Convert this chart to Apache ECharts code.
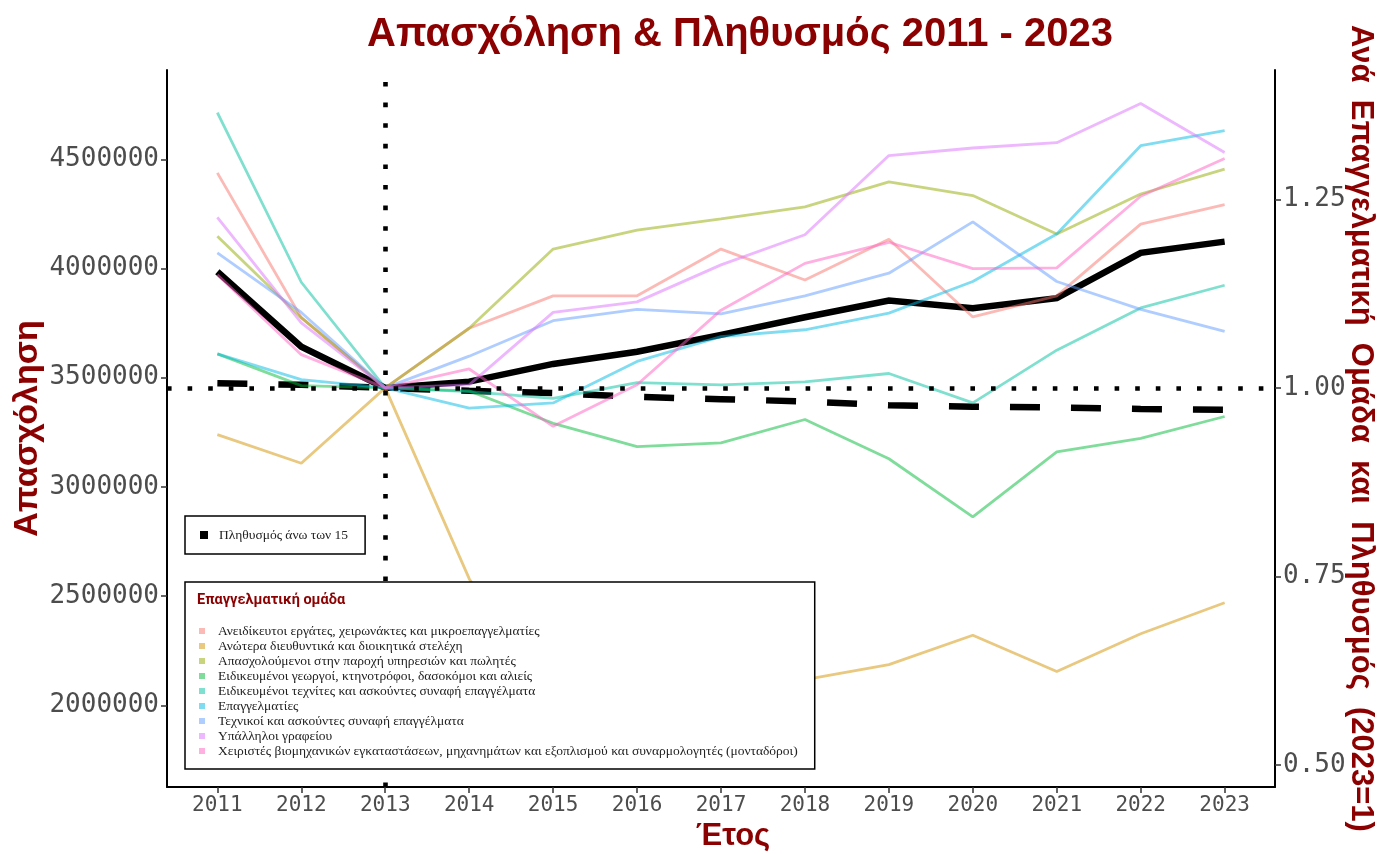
<!DOCTYPE html>
<html>
<head>
<meta charset="utf-8">
<script src="https://cdn.jsdelivr.net/npm/echarts@6/dist/echarts.min.js"></script>
<style>html,body{margin:0;padding:0;background:#fff;}#chart{width:1380px;height:854px;}</style>
</head>
<body>
<div id="chart"></div>
<script>
// ---------- data ----------
const years = [2011, 2012, 2013, 2014, 2015, 2016, 2017, 2018, 2019, 2020, 2021, 2022, 2023];
// total employment (left axis)
const employment = [3985000, 3642000, 3453000, 3482000, 3563000, 3619000, 3696000, 3777000, 3853000, 3818000, 3864000, 4072000, 4123000];
// population over 15, index (right axis)
const population = [1.006, 1.004, 1.000, 0.996, 0.993, 0.988, 0.985, 0.982, 0.977, 0.975, 0.974, 0.972, 0.971];
// occupational groups, index (right axis)
const groupNames = [
  'Ανειδίκευτοι εργάτες, χειρωνάκτες και μικροεπαγγελματίες',
  'Ανώτερα διευθυντικά και διοικητικά στελέχη',
  'Απασχολούμενοι στην παροχή υπηρεσιών και πωλητές',
  'Ειδικευμένοι γεωργοί, κτηνοτρόφοι, δασοκόμοι και αλιείς',
  'Ειδικευμένοι τεχνίτες και ασκούντες συναφή επαγγέλματα',
  'Επαγγελματίες',
  'Τεχνικοί και ασκούντες συναφή επαγγέλματα',
  'Υπάλληλοι γραφείου',
  'Χειριστές βιομηχανικών εγκαταστάσεων, μηχανημάτων και εξοπλισμού και συναρμολογητές (μονταδόροι)'
];
const unskilled   = [1.285, 1.093, 1.000, 1.079, 1.122, 1.122, 1.184, 1.143, 1.197, 1.094, 1.122, 1.217, 1.243];
const managers    = [0.938, 0.900, 1.000, 0.747, 0.570, 0.530, 0.515, 0.613, 0.633, 0.672, 0.624, 0.674, 0.715];
const services    = [1.201, 1.093, 1.000, 1.079, 1.184, 1.209, 1.224, 1.240, 1.273, 1.255, 1.204, 1.257, 1.290];
const farmers     = [1.045, 1.003, 1.000, 0.996, 0.953, 0.922, 0.927, 0.958, 0.906, 0.829, 0.915, 0.933, 0.962];
const craftsmen   = [1.365, 1.140, 1.000, 0.995, 0.986, 1.007, 1.004, 1.008, 1.019, 0.980, 1.050, 1.106, 1.136];
const professionals = [1.045, 1.011, 1.000, 0.973, 0.980, 1.035, 1.068, 1.077, 1.099, 1.141, 1.204, 1.321, 1.341];
const technicians = [1.179, 1.100, 1.000, 1.042, 1.089, 1.104, 1.098, 1.122, 1.152, 1.220, 1.141, 1.104, 1.075];
const clerks      = [1.226, 1.086, 1.000, 1.004, 1.100, 1.114, 1.163, 1.203, 1.308, 1.318, 1.325, 1.377, 1.312];
const operators   = [1.150, 1.044, 1.000, 1.025, 0.949, 1.004, 1.103, 1.165, 1.193, 1.158, 1.159, 1.254, 1.304];
const groupValues = [unskilled, managers, services, farmers, craftsmen, professionals, technicians, clerks, operators];
const groupColors = ['rgba(248,118,109,0.5)', 'rgba(211,146,0,0.5)', 'rgba(147,170,0,0.5)', 'rgba(0,186,56,0.5)',
  'rgba(0,193,159,0.5)', 'rgba(0,185,227,0.5)', 'rgba(97,156,255,0.5)', 'rgba(219,114,251,0.5)', 'rgba(255,97,195,0.5)'];
const popName = 'Πληθυσμός άνω των 15';
const empName = 'Απασχόληση';
const leftTicks = [2000000, 2500000, 3000000, 3500000, 4000000, 4500000];
const rightTicks = [0.50, 0.75, 1.00, 1.25];

// ---------- chart ----------
const DR = '#8B0000';
const chart = echarts.init(document.getElementById('chart'), null, {renderer: 'canvas'});
const pairs = arr => years.map((y, i) => [y, arr[i]]);

const series = [];
series.push({
  name: empName, type: 'line', yAxisIndex: 0, data: pairs(employment), symbol: 'none',
  color: '#000', lineStyle: {width: 6.5, cap: 'butt', join: 'miter'}, z: 2
});
series.push({
  name: popName, type: 'line', yAxisIndex: 1, data: pairs(population), symbol: 'none',
  color: '#000', lineStyle: {width: 6.5, type: [30, 31], cap: 'butt'}, z: 2
});
groupNames.forEach((n, k) => {
  series.push({
    name: n, type: 'line', yAxisIndex: 1, data: pairs(groupValues[k]), symbol: 'none',
    color: groupColors[k], lineStyle: {width: 2.8, color: groupColors[k]}, z: 3
  });
});
// reference dotted lines
series.push({
  name: 'ref', type: 'line', yAxisIndex: 1, data: [], symbol: 'none', z: 4,
  markLine: {
    silent: true, symbol: 'none', label: {show: false},
    lineStyle: {color: '#000', width: 4.6, type: [4.6, 16], cap: 'butt'},
    data: [{xAxis: 2013}, {yAxis: 1}]
  }
});

const option = {
  animation: false,
  backgroundColor: '#fff',
  title: {
    text: 'Απασχόληση & Πληθυσμός 2011 - 2023', left: 735, top: 10, textAlign: 'center',
    textStyle: {color: DR, fontSize: 40, fontWeight: 'bold', fontFamily: '"Liberation Sans", sans-serif'}
  },
  grid: {left: 167, right: 105, top: 70, bottom: 67, containLabel: false, outerBoundsMode: 'none'},
  xAxis: {
    type: 'value', min: 2010.4, max: 2023.6,
    name: 'Έτος', nameLocation: 'middle', nameGap: 32,
    nameTextStyle: {color: DR, fontSize: 31, fontWeight: 'bold', fontFamily: '"Liberation Sans", sans-serif', padding: [0, 0, 0, 24]},
    axisLine: {show: true, lineStyle: {color: '#000', width: 2}},
    axisTick: {show: true, length: 6, lineStyle: {color: '#333', width: 1.5}, customValues: years},
    axisLabel: {customValues: years, formatter: v => String(v), color: '#4d4d4d', fontSize: 21, margin: 8,
      fontFamily: '"DejaVu Sans Mono", monospace'},
    splitLine: {show: false}
  },
  yAxis: [
    {
      type: 'value', position: 'left', min: 1625916, max: 4908882,
      name: 'Απασχόληση', nameLocation: 'middle', nameGap: 122, nameRotate: 90, nameMoveOverlap: false,
      nameTextStyle: {color: DR, fontSize: 34, fontWeight: 'bold', fontFamily: '"Liberation Sans", Arial, sans-serif'},
      axisLine: {show: true, lineStyle: {color: '#000', width: 2}},
      axisTick: {show: true, length: 6, lineStyle: {color: '#333', width: 1.5}, customValues: leftTicks},
      axisLabel: {customValues: leftTicks, formatter: v => String(v), color: '#4d4d4d', fontSize: 26, margin: 8,
        fontFamily: '"DejaVu Sans Mono", monospace'},
      splitLine: {show: false}
    },
    {
      type: 'value', position: 'right', min: 0.4708, max: 1.4214,
      name: 'Ανά  Επαγγελματική  Ομάδα  και  Πληθυσμός  (2023=1)', nameLocation: 'middle', nameGap: 70, nameRotate: -90, nameMoveOverlap: false,
      nameTextStyle: {color: DR, fontSize: 31, fontWeight: 'bold', fontFamily: '"Liberation Sans", sans-serif'},
      axisLine: {show: true, lineStyle: {color: '#000', width: 2}},
      axisTick: {show: true, length: 6, lineStyle: {color: '#333', width: 1.5}, customValues: rightTicks},
      axisLabel: {customValues: rightTicks, formatter: v => v.toFixed(2), color: '#4d4d4d', fontSize: 26, margin: 8,
        fontFamily: '"DejaVu Sans Mono", monospace'},
      splitLine: {show: false}
    }
  ],
  legend: [
    {
      data: [popName], left: 185, top: 516, orient: 'vertical', selectedMode: false,
      icon: 'rect', itemWidth: 8, itemHeight: 8,
      backgroundColor: '#fff', borderColor: '#000', borderWidth: 1.5, borderRadius: 0,
      padding: [12, 17, 12, 15], z: 20,
      textStyle: {fontFamily: '"Liberation Serif", serif', fontSize: 13.5, color: '#222', padding: [0, 0, 0, 6]}
    },
    {
      data: groupNames, left: 185, top: 582, orient: 'vertical', selectedMode: false,
      icon: 'rect', itemWidth: 6, itemHeight: 6, itemGap: 1,
      backgroundColor: '#fff', borderColor: '#000', borderWidth: 1.5, borderRadius: 0,
      padding: [42, 17, 11, 14], z: 20,
      textStyle: {fontFamily: '"Liberation Serif", serif', fontSize: 13.5, color: '#222', lineHeight: 13.2, padding: [0, 0, 0, 8]}
    }
  ],
  graphic: [
    {
      type: 'text', left: 197, top: 593, z: 100, zlevel: 0,
      style: {text: 'Επαγγελματική ομάδα', fill: DR, font: 'bold 14.5px "Roboto", "Liberation Sans", sans-serif'}
    }
  ],
  series: series
};
chart.setOption(option);
</script>
</body>
</html>
